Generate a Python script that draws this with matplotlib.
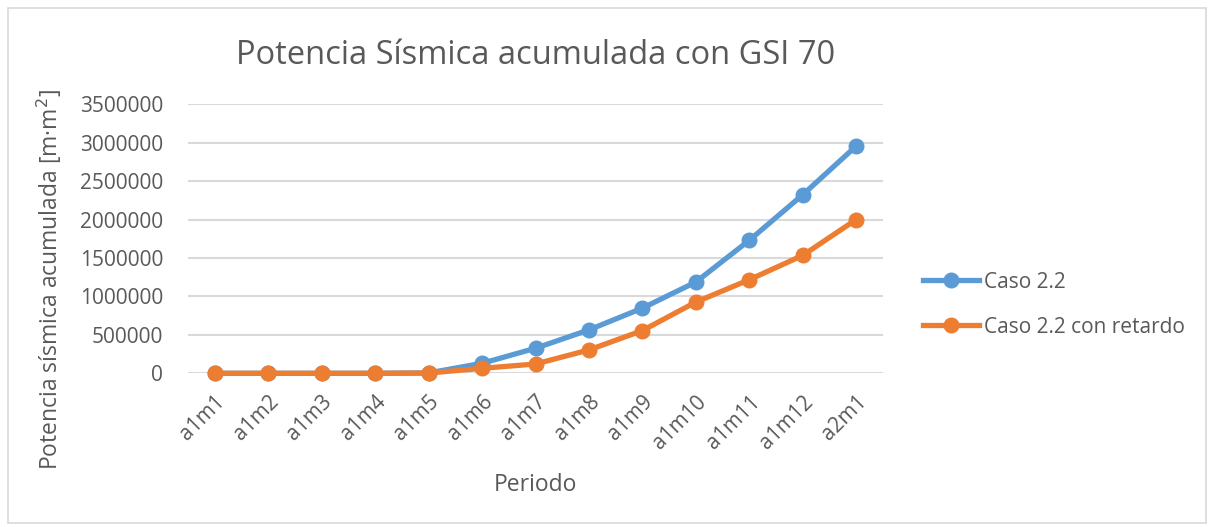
import matplotlib
matplotlib.use("Agg")
import matplotlib.pyplot as plt
from matplotlib.patches import Rectangle

periodos = ["a1m1", "a1m2", "a1m3", "a1m4", "a1m5", "a1m6", "a1m7",
            "a1m8", "a1m9", "a1m10", "a1m11", "a1m12", "a2m1"]
caso_22 = [0, 0, 0, 0, 5000, 130000, 326000, 565000, 848000,
           1188000, 1731000, 2324000, 2958000]
caso_22_retardo = [0, 0, 0, 0, 3000, 65000, 121000, 304000, 556000,
                   927000, 1218000, 1535000, 2001000]
y_ticks = [0, 500000, 1000000, 1500000, 2000000, 2500000, 3000000, 3500000]

TEXT = "#595959"
BLUE = "#5B9BD5"
ORANGE = "#ED7D31"
GRID = "#D9D9D9"

plt.rcParams["font.family"] = ["Open Sans", "DejaVu Sans"]

fig = plt.figure(figsize=(12.14, 5.27), dpi=100)
fig.patches.append(Rectangle((8 / 1214, 4 / 527), 1198 / 1214, 515 / 527,
                             transform=fig.transFigure, fill=False,
                             edgecolor="#D9D9D9", linewidth=1.2))

ax = fig.add_axes([188 / 1214, 1 - 373.3 / 527, 695 / 1214, 269 / 527])
x = list(range(len(periodos)))

ax.plot(x, caso_22, color=BLUE, lw=3.8, marker="o", ms=10.5,
        label="Caso 2.2", clip_on=False, zorder=3)
ax.plot(x, caso_22_retardo, color=ORANGE, lw=3.8, marker="o", ms=10.5,
        label="Caso 2.2 con retardo", clip_on=False, zorder=4)

ax.set_xlim(-0.5, len(periodos) - 0.5)
ax.set_ylim(0, 3500000)
ax.set_yticks(y_ticks)
ax.set_yticklabels([str(v) for v in y_ticks])
ax.set_xticks(x)
ax.set_xticklabels(periodos, rotation=45, ha="right", rotation_mode="anchor")
ax.tick_params(axis="both", length=0, labelsize=15, labelcolor=TEXT)
ax.tick_params(axis="x", pad=13)
ax.tick_params(axis="y", pad=18)
ax.grid(axis="y", color=GRID, lw=1.5)
ax.set_axisbelow(True)
for s in ax.spines.values():
    s.set_visible(False)

ax.set_title("Potencia Sísmica acumulada con GSI 70", fontsize=23.5,
             color=TEXT, pad=29)
ax.set_xlabel("Periodo", fontsize=16.5, color=TEXT, labelpad=14)
ax.set_ylabel("Potencia sísmica acumulada [m·m$^2$]", fontsize=16.5,
              color=TEXT)
ax.yaxis.set_label_coords(-0.178, 0.35)

ax.legend(loc="center left", bbox_to_anchor=(1.058, 0.255), frameon=False,
          fontsize=15, labelcolor=TEXT, handlelength=2.65, handletextpad=0.25,
          labelspacing=1.15, borderpad=0, borderaxespad=0, markerscale=1.0)

fig.savefig("out.png", dpi=100, facecolor="white")
